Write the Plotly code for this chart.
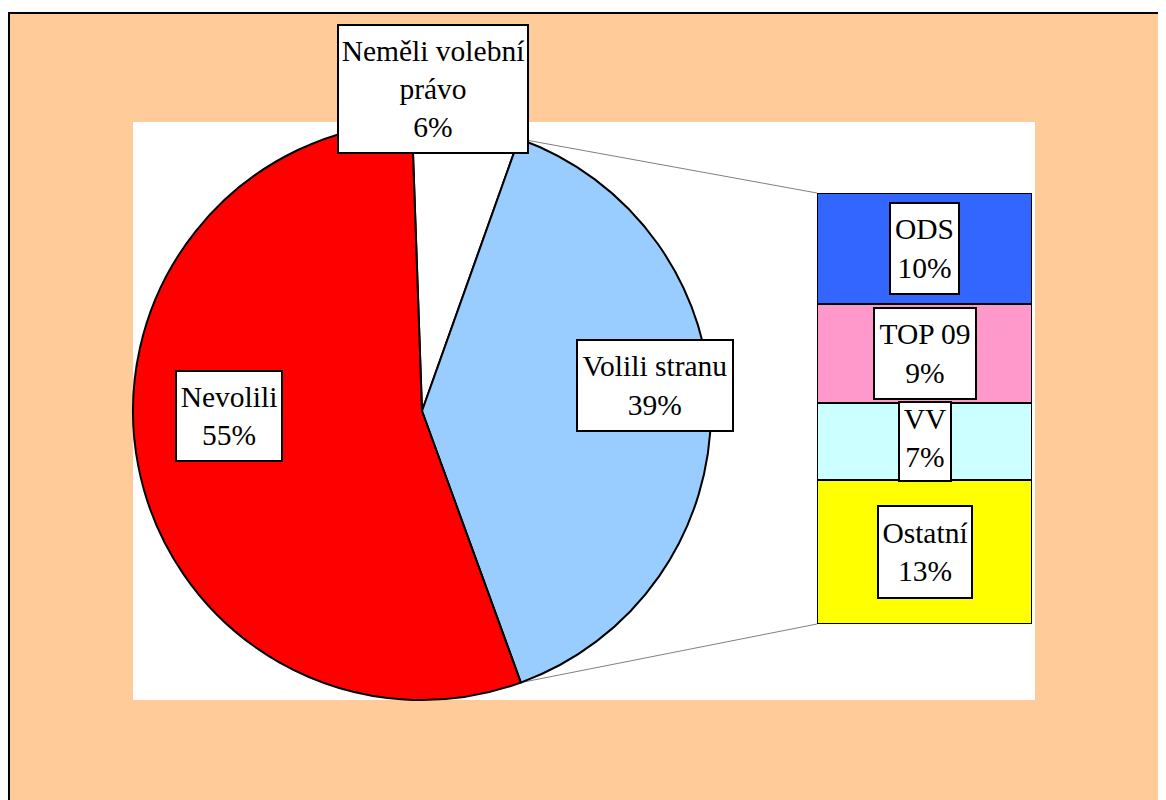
import math
import plotly.graph_objects as go

# ---- data ----
pie_labels = ["Neměli volební právo", "Volili stranu", "Nevolili"]
pie_values = [6, 39, 55]
pie_colors = ["#FFFFFF", "#99CCFF", "#FF0000"]

bar_labels = ["Ostatní", "VV", "TOP 09", "ODS"]   # bottom -> top
bar_values = [13, 7, 9, 10]
bar_colors = ["#FFFF00", "#CCFFFF", "#FF99CC", "#3366FF"]

# ---- layout geometry (page pixel coords; page has an 8px body margin) ----
OFF = 8
FW, FH = 1166, 800
L_abs, T_abs = 133, 122
W, H = 902, 578
L, T = L_abs - OFF, T_abs - OFF
R, B = FW - L - W, FH - T - H
pie_dom_x = [0, 578 / W]
pie_dom_y = [0, 1]
rotation = -2
bar_dom_x = [(817 - L_abs) / W, (1032 - L_abs) / W]
bar_dom_y = [(T_abs + H - 624) / H, (T_abs + H - 193) / H]
total_bar = sum(bar_values)

FONT = dict(family="Liberation Serif, Times New Roman, serif", size=29.5, color="black")

fig = go.Figure()
fig.add_trace(go.Pie(
    labels=pie_labels, values=pie_values, sort=False, direction="clockwise",
    rotation=rotation, marker=dict(colors=pie_colors, line=dict(color="black", width=2)),
    textinfo="none", domain=dict(x=pie_dom_x, y=pie_dom_y), showlegend=False,
    hoverinfo="label+percent",
))
for lab, val, col in zip(bar_labels, bar_values, bar_colors):
    fig.add_trace(go.Bar(
        x=[0], y=[val], name=lab, width=1,
        marker=dict(color=col, line=dict(color="black", width=2)),
        xaxis="x", yaxis="y", showlegend=False,
    ))

def to_paper(px, py):
    return (px - L_abs) / W, (T_abs + H - py) / H

# pie geometry in page pixels
cx = L_abs + W * (pie_dom_x[0] + pie_dom_x[1]) / 2
cy = T_abs + H * (1 - (pie_dom_y[0] + pie_dom_y[1]) / 2)
r = min(W * (pie_dom_x[1] - pie_dom_x[0]), H * (pie_dom_y[1] - pie_dom_y[0])) / 2
tot = sum(pie_values)
a1 = math.radians(rotation + 360 * pie_values[0] / tot)
a2 = math.radians(rotation + 360 * (pie_values[0] + pie_values[1]) / tot)
p1 = to_paper(cx + r * math.sin(a1), cy - r * math.cos(a1))
p2 = to_paper(cx + r * math.sin(a2), cy - r * math.cos(a2))

shapes = [
    dict(type="rect", xref="paper", yref="paper", layer="below",
         x0=to_paper(9, 0)[0], x1=to_paper(1220, 0)[0],
         y0=to_paper(0, 860)[1], y1=to_paper(0, 13)[1],
         fillcolor="#FFCC99", line=dict(color="black", width=2)),
    dict(type="rect", xref="paper", yref="paper", layer="below",
         x0=0, x1=1, y0=0, y1=1, fillcolor="white", line=dict(width=0)),
    dict(type="line", xref="paper", yref="paper", layer="below",
         x0=p1[0], y0=p1[1], x1=bar_dom_x[0], y1=bar_dom_y[1],
         line=dict(color="#808080", width=1)),
    dict(type="line", xref="paper", yref="paper", layer="below",
         x0=p2[0], y0=p2[1], x1=bar_dom_x[0], y1=bar_dom_y[0],
         line=dict(color="#808080", width=1)),
]

annotations = []
def box(text, x, y, w, h, xref="paper", yref="paper", valign="middle"):
    annotations.append(dict(
        text=text, x=x, y=y, xref=xref, yref=yref, showarrow=False,
        xanchor="center", yanchor="middle", width=w, height=h, valign=valign,
        bgcolor="white", bordercolor="black", borderwidth=2, borderpad=0, font=FONT,
    ))

# pie labels
px_, py_ = to_paper(433, 89)
box("Neměli volební<br>právo<br>%d%%" % pie_values[0], px_, py_, 188, 126)
px_, py_ = to_paper(655, 385.5)
box("Volili stranu<br>%d%%" % pie_values[1], px_, py_, 154, 89)
px_, py_ = to_paper(229, 416)
box("Nevolili<br>%d%%" % pie_values[2], px_, py_, 104, 88)

# bar labels
box_sizes = {"Ostatní": (92, 90), "VV": (50, 77), "TOP 09": (100, 89), "ODS": (67, 89)}
cum = 0
for lab, val in zip(bar_labels, bar_values):
    mid = cum + val / 2
    cum += val
    w, h = box_sizes[lab]
    box("%s<br>%d%%" % (lab, val), 0, mid, w, h, xref="x", yref="y",
        valign="top" if lab == "VV" else "middle")

fig.update_layout(
    width=FW, height=FH, autosize=False,
    margin=dict(l=L, r=R, t=T, b=B),
    paper_bgcolor="white", plot_bgcolor="white",
    barmode="stack", bargap=0,
    xaxis=dict(domain=bar_dom_x, range=[-0.5, 0.5], visible=False, fixedrange=True),
    yaxis=dict(domain=bar_dom_y, range=[0, total_bar], visible=False, fixedrange=True),
    shapes=shapes, annotations=annotations, showlegend=False,
)

fig.write_html("out.html")
